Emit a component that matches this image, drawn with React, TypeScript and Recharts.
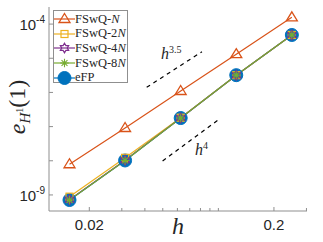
import React from "react"
import { LineChart, Line, XAxis, YAxis } from "recharts"

// mesh sizes and H1 errors (log-log convergence plot)
const hValues = [1 / 64, 1 / 32, 1 / 16, 1 / 8, 1 / 4]
const errN = [7.9e-9, 9.1e-8, 1.1e-6, 1.32e-5, 1.58e-4]
const err2N = [8.9e-10, 1.22e-8, 1.82e-7, 3.2e-6, 4.8e-5]
const err4N = [7.2e-10, 1.03e-8, 1.78e-7, 3.2e-6, 4.8e-5]
const err8N = [7.1e-10, 1.02e-8, 1.78e-7, 3.2e-6, 4.8e-5]
const errEFP = [7.1e-10, 1.02e-8, 1.78e-7, 3.2e-6, 4.8e-5]

// reference slope segments
const slope35H = [0.0409, 0.0815]
const slope35E = [1.41e-6, 1.55e-5]
const slope4H = [0.0499, 0.0998]
const slope4E = [9.9e-9, 1.56e-7]

const xTicks = [0.02, 0.03, 0.04, 0.05, 0.06, 0.07, 0.08, 0.09, 0.1, 0.2, 0.3]
const xLabels = [0.02, 0.2]
const yTicks = [1e-9, 1e-8, 1e-7, 1e-6, 1e-5, 1e-4]
const yLabels: Record<string, string> = { "1e-9": "-9", "0.0001": "-4" }

const xDomain = [0.0121, 0.302]
const yDomain = [Math.pow(10, -9.47), Math.pow(10, -3.5)]

const data = hValues.map((h, i) => ({
  h,
  n: errN[i],
  n2: err2N[i],
  n4: err4N[i],
  n8: err8N[i],
  efp: errEFP[i],
}))
const slope35 = slope35H.map((h, i) => ({ h, v: slope35E[i] }))
const slope4 = slope4H.map((h, i) => ({ h, v: slope4E[i] }))

const ORANGE = "#D95319"
const YELLOW = "#EDB120"
const PURPLE = "#7E2F8E"
const GREEN = "#77AC30"
const BLUE = "#0072BD"
const BOX = "#8f8f8f"
const TXT = "#262626"

type Kind = "triangle" | "square" | "hexagram" | "asterisk" | "circle"

function Marker({ kind, cx, cy, color }: { kind: Kind; cx: number; cy: number; color: string }) {
  if (kind === "triangle") {
    return (
      <polygon
        points={`${cx},${cy - 5.5} ${cx + 5.5},${cy + 3.5} ${cx - 5.5},${cy + 3.5}`}
        fill="none"
        stroke={color}
        strokeWidth={1.3}
      />
    )
  }
  if (kind === "square") {
    return <rect x={cx - 3.5} y={cy - 3.5} width={7} height={7} fill="none" stroke={color} strokeWidth={1.2} />
  }
  if (kind === "hexagram") {
    const pts: string[] = []
    for (let k = 0; k < 12; k++) {
      const r = k % 2 === 0 ? 4.8 : 2.8
      const a = (Math.PI / 6) * k - Math.PI / 2
      pts.push(`${cx + r * Math.cos(a)},${cy + r * Math.sin(a)}`)
    }
    return <polygon points={pts.join(" ")} fill="none" stroke={color} strokeWidth={1.2} />
  }
  if (kind === "asterisk") {
    const r = 4.2
    const d = r * 0.707
    return (
      <path
        d={`M${cx - r},${cy}H${cx + r}M${cx},${cy - r}V${cy + r}M${cx - d},${cy - d}L${cx + d},${cy + d}M${cx - d},${cy + d}L${cx + d},${cy - d}`}
        stroke={color}
        strokeWidth={1.1}
      />
    )
  }
  return <circle cx={cx} cy={cy} r={6.5} fill={color} stroke={color} />
}

const dotFor = (kind: Kind, color: string) => (p: any) =>
  p.cx == null ? <g key={p.index} /> : <g key={p.index}><Marker kind={kind} cx={p.cx} cy={p.cy} color={color} /></g>

const XTick = ({ x, y, payload }: any) => {
  const major = xLabels.includes(payload.value)
  return (
    <g>
      <line x1={x} y1={y} x2={x} y2={y - (major ? 4 : 3)} stroke={BOX} />
      {major && (
        <text x={x} y={y + 19} textAnchor="middle" fontSize={15} fill={TXT} fontFamily="Liberation Sans, Arial">
          {payload.value}
        </text>
      )}
    </g>
  )
}

const XTopTick = ({ x, y, payload }: any) => (
  <line x1={x} y1={y} x2={x} y2={y + (xLabels.includes(payload.value) ? 4 : 3)} stroke={BOX} />
)

const YTick = ({ x, y, payload }: any) => {
  const exp = yLabels[String(payload.value)]
  return (
    <g>
      <line x1={x} y1={y} x2={x + 4} y2={y} stroke={BOX} />
      {exp && (
        <text x={x - 4} y={y + 6} textAnchor="end" fontSize={15} fill={TXT} fontFamily="Liberation Sans, Arial">
          10
          <tspan dy={-7} fontSize={10}>{exp}</tspan>
        </text>
      )}
    </g>
  )
}

const YRightTick = ({ x, y }: any) => <line x1={x} y1={y} x2={x - 4} y2={y} stroke={BOX} />

const legendItems: { name: React.ReactNode; kind: Kind; color: string }[] = [
  { name: <>FSwQ-<i>N</i></>, kind: "triangle", color: ORANGE },
  { name: <>FSwQ-2<i>N</i></>, kind: "square", color: YELLOW },
  { name: <>FSwQ-4<i>N</i></>, kind: "hexagram", color: PURPLE },
  { name: <>FSwQ-8<i>N</i></>, kind: "asterisk", color: GREEN },
  { name: <>eFP</>, kind: "circle", color: BLUE },
]

const serif = "'Liberation Serif', 'DejaVu Serif', serif"

export default function App() {
  return (
    <div style={{ position: "absolute", left: 0, top: 0, width: 323, height: 242, background: "#fff" }}>
      <LineChart width={323} height={242} data={data} margin={{ top: 7, right: 16, bottom: 6, left: 9 }}>
        <XAxis
          dataKey="h"
          type="number"
          scale="log"
          domain={xDomain}
          allowDataOverflow
          ticks={xTicks}
          interval={0}
          tickSize={0}
          tickMargin={0}
          height={25}
          stroke={BOX}
          tick={XTick}
        />
        <XAxis
          xAxisId="top"
          orientation="top"
          dataKey="h"
          type="number"
          scale="log"
          domain={xDomain}
          allowDataOverflow
          ticks={xTicks}
          interval={0}
          tickSize={0}
          tickMargin={0}
          height={0}
          stroke={BOX}
          tick={XTopTick}
        />
        <YAxis
          type="number"
          scale="log"
          domain={yDomain}
          allowDataOverflow
          ticks={yTicks}
          interval={0}
          tickSize={0}
          tickMargin={0}
          width={40}
          stroke={BOX}
          tick={YTick}
        />
        <YAxis
          yAxisId="right"
          orientation="right"
          type="number"
          scale="log"
          domain={yDomain}
          allowDataOverflow
          ticks={yTicks}
          interval={0}
          tickSize={0}
          tickMargin={0}
          width={0}
          stroke={BOX}
          tick={YRightTick}
        />
        <Line data={slope35} dataKey="v" stroke="#000" strokeWidth={1.2} strokeDasharray="4 4" dot={false} isAnimationActive={false} />
        <Line data={slope4} dataKey="v" stroke="#000" strokeWidth={1.2} strokeDasharray="4 4" dot={false} isAnimationActive={false} />
        <Line dataKey="efp" stroke={BLUE} strokeWidth={1.2} dot={dotFor("circle", BLUE)} isAnimationActive={false} />
        <Line dataKey="n" stroke={ORANGE} strokeWidth={1.2} dot={dotFor("triangle", ORANGE)} isAnimationActive={false} />
        <Line dataKey="n2" stroke={YELLOW} strokeWidth={1.2} dot={dotFor("square", YELLOW)} isAnimationActive={false} />
        <Line dataKey="n4" stroke={PURPLE} strokeWidth={1.2} dot={dotFor("hexagram", PURPLE)} isAnimationActive={false} />
        <Line dataKey="n8" stroke={GREEN} strokeWidth={1.2} dot={dotFor("asterisk", GREEN)} isAnimationActive={false} />
      </LineChart>

      {/* legend */}
      <div
        style={{
          position: "absolute",
          left: 53,
          top: 10,
          width: 75,
          height: 73,
          border: `1px solid ${BOX}`,
          background: "#fff",
          boxSizing: "border-box",
          paddingTop: 1,
        }}
      >
        {legendItems.map((it, i) => (
          <div key={i} style={{ display: "flex", alignItems: "center", height: 14.6 }}>
            <svg width={22} height={14} style={{ flex: "none" }}>
              <line x1={0} y1={7} x2={21} y2={7} stroke={it.color} strokeWidth={1.2} />
              <Marker kind={it.kind} cx={10.5} cy={7} color={it.color} />
            </svg>
            <span style={{ fontFamily: serif, fontSize: 12.5, color: TXT, marginLeft: -1, whiteSpace: "nowrap" }}>{it.name}</span>
          </div>
        ))}
      </div>

      {/* slope labels */}
      <div style={{ position: "absolute", left: 161, top: 44, fontFamily: serif, fontSize: 16, color: TXT }}>
        <i>h</i>
        <sup style={{ fontSize: 10 }}>3.5</sup>
      </div>
      <div style={{ position: "absolute", left: 195, top: 140, fontFamily: serif, fontSize: 16, color: TXT }}>
        <i>h</i>
        <sup style={{ fontSize: 10 }}>4</sup>
      </div>

      {/* axis titles */}
      <div
        style={{
          position: "absolute",
          left: 178,
          top: 214,
          transform: "translateX(-50%)",
          fontFamily: serif,
          fontSize: 24,
          fontStyle: "italic",
          color: TXT,
          lineHeight: 1,
        }}
      >
        h
      </div>
      <div
        style={{
          position: "absolute",
          left: 17,
          top: 107,
          transform: "translate(-50%, -50%) rotate(-90deg)",
          fontFamily: serif,
          fontSize: 24,
          color: TXT,
          whiteSpace: "nowrap",
          lineHeight: 1,
        }}
      >
        <i>e</i>
        <span style={{ fontSize: 15, position: "relative", top: 5 }}>
          <i>H</i>
          <span style={{ fontSize: 10, position: "relative", top: -7 }}>1</span>
        </span>
        (1)
      </div>
    </div>
  )
}
